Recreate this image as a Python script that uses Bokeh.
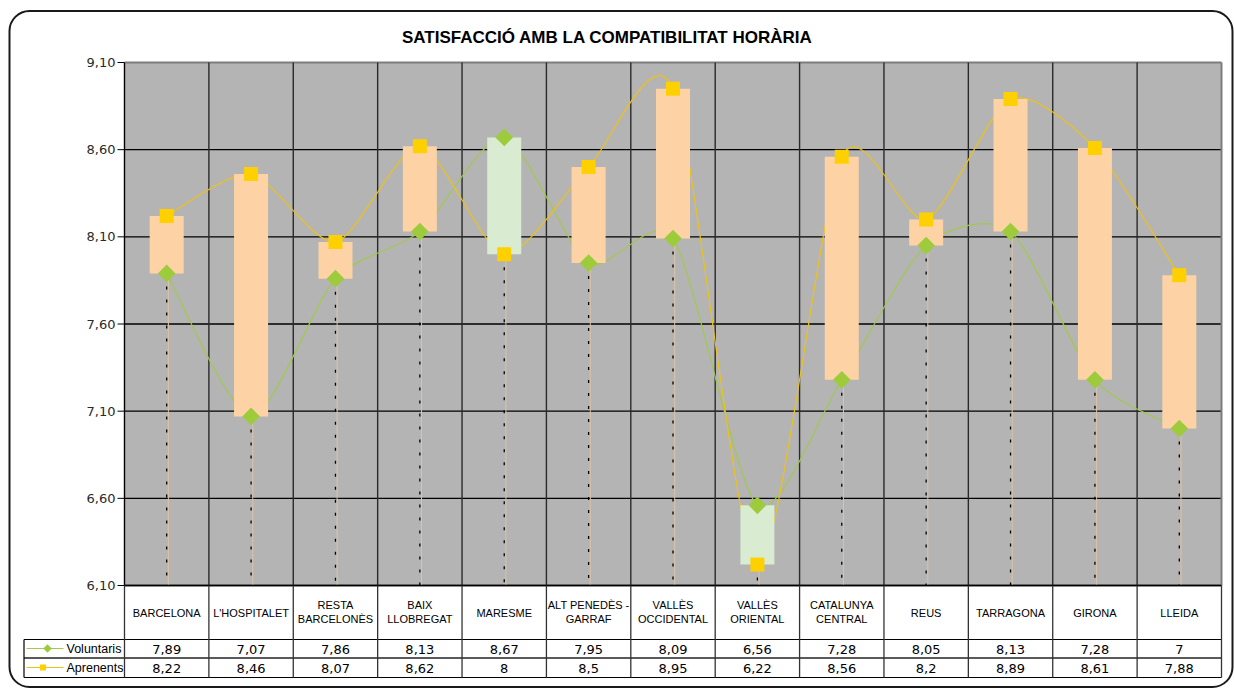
import numpy as np
from bokeh.plotting import figure
from bokeh.models import Range1d
from bokeh.core.properties import value
from bokeh.embed import file_html
from bokeh.resources import INLINE

# ---------------- data ----------------
title = "SATISFACCIÓ AMB LA COMPATIBILITAT HORÀRIA"
categories = ["BARCELONA", "L'HOSPITALET", "RESTA\nBARCELONÈS", "BAIX\nLLOBREGAT",
              "MARESME", "ALT PENEDÈS -\nGARRAF", "VALLÈS\nOCCIDENTAL", "VALLÈS\nORIENTAL",
              "CATALUNYA\nCENTRAL", "REUS", "TARRAGONA", "GIRONA", "LLEIDA"]
voluntaris = [7.89, 7.07, 7.86, 8.13, 8.67, 7.95, 8.09, 6.56, 7.28, 8.05, 8.13, 7.28, 7.00]
aprenents = [8.22, 8.46, 8.07, 8.62, 8.00, 8.50, 8.95, 6.22, 8.56, 8.20, 8.89, 8.61, 7.88]
series_names = ["Voluntaris", "Aprenents"]
y_ticks = [6.10, 6.60, 7.10, 7.60, 8.10, 8.60, 9.10]

# ---------------- layout (page pixels) ----------------
W, H = 1234, 689
OFF = 0
PL, PR, PT, PB = 124, 1221, 62, 585
n = len(categories)
YMIN, YMAX = y_ticks[0], y_ticks[-1]
PXU = (PR - PL) / n
PYU = (PB - PT) / (YMAX - YMIN)

def dx(X):
    return -0.5 + (X - PL) / PXU

def dy(Y):
    return YMIN - (Y - PB) / PYU

p = figure(width=W, height=H, output_backend="svg", toolbar_location=None,
           x_range=Range1d(dx(OFF), dx(OFF + W)), y_range=Range1d(dy(OFF + H), dy(OFF)),
           x_axis_location=None, y_axis_location=None, min_border=0,
           outline_line_color=None, background_fill_color="white", border_fill_color="white")
p.grid.visible = False

idx = np.arange(n)
vol = np.array(voluntaris)
apr = np.array(aprenents)
lo = np.minimum(vol, apr)
hi = np.maximum(vol, apr)

GREEN = "#9dcb3c"
YELLOW = "#ffd000"
GREEN_LINE = "#a2c84e"
YELLOW_LINE = "#ecc21a"
UP = "#fdd3a6"
DOWN = "#d9ecd1"

# outer rounded border
p.quad(left=dx(9), right=dx(1232), top=dy(10.5), bottom=dy(686.5), fill_color=None,
       line_color="#1a1a1a", line_width=2, border_radius=20)

# title
p.text(x=[dx(607)], y=[dy(37)], text=[title], text_align="center", text_baseline="middle",
       text_font=value("Liberation Sans"), text_font_style="bold", text_font_size="17px",
       text_color="black")

# plot area
p.quad(left=-0.5, right=n - 0.5, top=YMAX, bottom=YMIN, fill_color="#b4b4b4", line_color=None)

# horizontal grid
p.segment(x0=-0.5, x1=n - 0.5, y0=y_ticks[:-1], y1=y_ticks[:-1], line_color="black", line_width=1.3)
p.segment(x0=-0.5, x1=n - 0.5, y0=y_ticks[-1], y1=y_ticks[-1], line_color="#7d7d7d", line_width=2)
# vertical grid at category boundaries
bounds = idx[:-1] + 0.5
p.segment(x0=bounds, x1=bounds, y0=YMIN, y1=YMAX, line_color="#2a2a2a", line_width=1.4)
p.segment(x0=n - 0.5, x1=n - 0.5, y0=YMIN, y1=YMAX, line_color="#7d7d7d", line_width=2)
p.segment(x0=-0.5, x1=-0.5, y0=YMIN, y1=YMAX, line_color="black", line_width=1.4)

# y ticks + labels
p.segment(x0=dx(117), x1=-0.5, y0=y_ticks, y1=y_ticks, line_color="black", line_width=1)
p.text(x=dx(115), y=y_ticks, text=[f"{t:.2f}".replace(".", ",") for t in y_ticks],
       text_align="right", text_baseline="middle", text_font=value("DejaVu Sans"),
       text_font_size="13px", text_color="#2a2a2a")

# drop lines
p.segment(x0=idx + 0.02, x1=idx + 0.02, y0=lo, y1=YMIN, line_color="#dcc3a8", line_width=1)
p.segment(x0=idx, x1=idx, y0=lo, y1=YMIN, line_color="black", line_width=1.3, line_dash="3 10")

# smoothed lines (cubic Bezier through the data points)
def smooth(ys, k=1.0 / 8.0):
    P = np.column_stack([idx.astype(float), np.asarray(ys, dtype=float)])
    Pm = np.vstack([P[0], P, P[-1]])
    c1 = P[:-1] + (Pm[2:-1] - Pm[:-3]) * k
    c2 = P[1:] - (Pm[3:] - Pm[1:-2]) * k
    return dict(x0=P[:-1, 0], y0=P[:-1, 1], x1=P[1:, 0], y1=P[1:, 1],
                cx0=c1[:, 0], cy0=c1[:, 1], cx1=c2[:, 0], cy1=c2[:, 1])

p.bezier(**smooth(voluntaris), line_color=GREEN_LINE, line_width=1.2)
p.bezier(**smooth(aprenents), line_color=YELLOW_LINE, line_width=1.2)

# up/down bars
bw = 34 / PXU
colors = [UP if a > v else DOWN for v, a in zip(voluntaris, aprenents)]
p.quad(left=idx - bw / 2, right=idx + bw / 2, bottom=lo, top=hi, fill_color=colors, line_color=None)

# markers
p.scatter(x=idx, y=voluntaris, marker="square", angle=np.pi / 4, size=12.5,
          fill_color=GREEN, line_color=None)
p.scatter(x=idx, y=aprenents, marker="square", size=14, fill_color=YELLOW, line_color=None)

# ---------------- data table ----------------
R1, R2, R3 = 639, 657.5, 677
TL = 23.5
p.segment(x0=[dx(TL)], x1=[n - 0.5], y0=[dy(R1)], y1=[dy(R1)], line_color="black", line_width=1.2)
p.segment(x0=[dx(TL)], x1=[n - 0.5], y0=[dy(R2)], y1=[dy(R2)], line_color="#5a5a5a", line_width=1.8)
p.segment(x0=[dx(TL)], x1=[n - 0.5], y0=[dy(R3)], y1=[dy(R3)], line_color="black", line_width=1.2)
p.segment(x0=[-0.5], x1=[n - 0.5], y0=[YMIN], y1=[YMIN], line_color="black", line_width=1.4)
cols = np.concatenate([[-0.5], bounds, [n - 0.5]])
p.segment(x0=cols, x1=cols, y0=YMIN, y1=dy(R3), line_color="#333333", line_width=1.3)
p.segment(x0=[dx(TL)], x1=[dx(TL)], y0=[dy(R1)], y1=[dy(R3)], line_color="black", line_width=1.2)

# category labels
lx, ly, lt = [], [], []
for i, c in enumerate(categories):
    parts = c.split("\n")
    ys = [612] if len(parts) == 1 else [604, 618]
    for part, yy in zip(parts, ys):
        lx.append(i)
        ly.append(dy(yy))
        lt.append(part)
p.text(x=lx, y=ly, text=lt, text_align="center", text_baseline="middle",
       text_font=value("Liberation Sans"), text_font_size="11px", text_color="black")

def fmt(v):
    return f"{v:g}".replace(".", ",")

p.text(x=idx, y=dy(648.5), text=[fmt(v) for v in voluntaris], text_align="center",
       text_baseline="middle", text_font=value("DejaVu Sans"), text_font_size="13px",
       text_color="black")
p.text(x=idx, y=dy(667.5), text=[fmt(v) for v in aprenents], text_align="center",
       text_baseline="middle", text_font=value("DejaVu Sans"), text_font_size="13px",
       text_color="black")

# legend keys
p.segment(x0=[dx(26)], x1=[dx(63)], y0=[dy(648)], y1=[dy(648)], line_color=GREEN_LINE, line_width=1.2)
p.scatter(x=[dx(47)], y=[dy(648)], marker="square", angle=np.pi / 4, size=6, fill_color=GREEN, line_color=None)
p.segment(x0=[dx(26)], x1=[dx(63)], y0=[dy(667)], y1=[dy(667)], line_color=YELLOW_LINE, line_width=1.2)
p.scatter(x=[dx(42.5)], y=[dy(667)], marker="square", size=6, fill_color=YELLOW, line_color=None)
p.text(x=dx(66), y=[dy(648.5), dy(667.5)], text=series_names, text_align="left",
       text_baseline="middle", text_font=value("Liberation Sans"), text_font_size="12.5px",
       text_color="black")

open("out.html", "w").write(file_html(p, INLINE))
